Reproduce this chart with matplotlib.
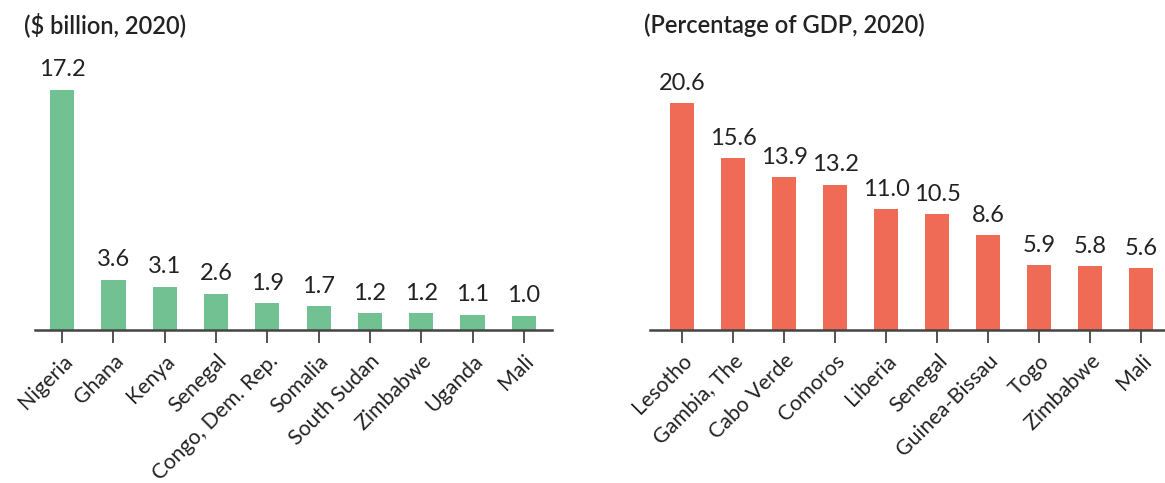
import matplotlib.pyplot as plt

plt.rcParams['font.family'] = ['Lato', 'DejaVu Sans']

# datos
paises_usd = ['Nigeria', 'Ghana', 'Kenya', 'Senegal', 'Congo, Dem. Rep.',
              'Somalia', 'South Sudan', 'Zimbabwe', 'Uganda', 'Mali']
valores_usd = [17.2, 3.6, 3.1, 2.6, 1.9, 1.7, 1.2, 1.2, 1.1, 1.0]

paises_pib = ['Lesotho', 'Gambia, The', 'Cabo Verde', 'Comoros', 'Liberia',
              'Senegal', 'Guinea-Bissau', 'Togo', 'Zimbabwe', 'Mali']
valores_pib = [20.6, 15.6, 13.9, 13.2, 11.0, 10.5, 8.6, 5.9, 5.8, 5.6]

color_texto = '#222222'
color_eje = '#444444'

fig = plt.figure(figsize=(11.65, 4.83), dpi=100)

W, H = 1165, 483


def panel(px_left, px_right, xlim, ytop_px, valores, paises, color, titulo, titulo_x):
    # ejes en coordenadas de pixel
    axis_y = 330
    ax = fig.add_axes([px_left / W, (H - axis_y) / H,
                       (px_right - px_left) / W, (axis_y - ytop_px) / H])
    x = range(len(valores))
    ax.bar(x, valores, width=0.47, color=color)
    ax.set_xlim(*xlim)
    ax.set_ylim(0, max(valores))
    for xi, v in zip(x, valores):
        ax.text(xi, v + max(valores) * 0.04, f'{v:.1f}', ha='center', va='bottom',
                fontsize=17, color=color_texto, clip_on=False)
    ax.set_xticks(list(x))
    ax.set_xticklabels(paises, rotation=45, ha='right', rotation_mode='anchor',
                       fontsize=15.3, color=color_texto)
    ax.tick_params(axis='x', length=9, width=1.3, color=color_eje, pad=6)
    ax.set_yticks([])
    for s in ['left', 'right', 'top']:
        ax.spines[s].set_visible(False)
    ax.spines['bottom'].set_color(color_eje)
    ax.spines['bottom'].set_linewidth(1.8)
    fig.text(titulo_x / W, 1 - 25 / H, titulo, fontsize=17, fontweight='semibold',
             color=color_texto, va='center', ha='left')
    return ax


panel(35, 552, (-0.53, 9.55), 90, valores_usd, paises_usd, '#72C193',
      '($ billion, 2020)', 24)
panel(650, 1165, (-0.63, 9.47), 103, valores_pib, paises_pib, '#EF6B55',
      '(Percentage of GDP, 2020)', 644)

fig.savefig('out.png', dpi=100)
